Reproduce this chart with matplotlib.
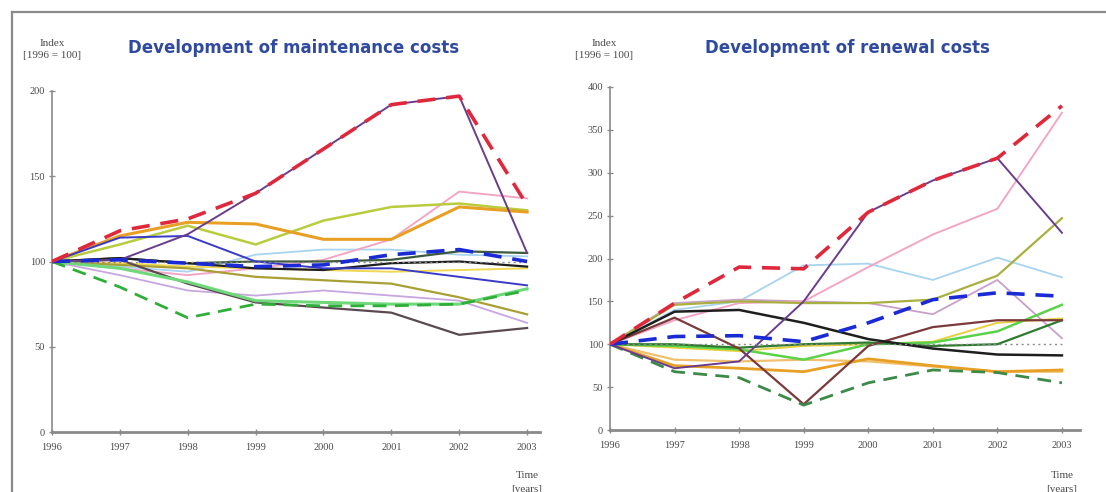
import matplotlib
matplotlib.use("Agg")
import matplotlib.pyplot as plt
from matplotlib.lines import Line2D

years = [1996, 1997, 1998, 1999, 2000, 2001, 2002, 2003]
year_labels = ["1996", "1997", "1998", "1999", "2000", "2001", "2002", "2003"]

# Maintenance cost indices (1996 = 100)
maint_red_dash = [100, 118, 125, 140, 166, 192, 197, 133]
maint_purple = [100, 101, 116, 140, 166, 192, 197, 105]
maint_blue = [100, 114, 115, 100, 96, 96, 91, 86]
maint_orange = [100, 115, 123, 122, 113, 113, 132, 129]
maint_yellowgreen = [100, 110, 121, 110, 124, 132, 134, 130]
maint_pink = [100, 96, 92, 96, 101, 113, 141, 137]
maint_blue_dash = [100, 101, 99, 97, 98, 104, 107, 100]
maint_darkgreen = [100, 102, 99, 100, 100, 101, 106, 105]
maint_black = [100, 102, 99, 96, 95, 99, 100, 97]
maint_yellow = [100, 99, 97, 96, 95, 94, 95, 96]
maint_olive = [100, 98, 96, 91, 89, 87, 79, 69]
maint_darkgray = [100, 101, 87, 76, 73, 70, 57, 61]
maint_green_dash = [100, 85, 67, 75, 74, 74, 75, 83]
maint_lightgreen = [100, 96, 88, 77, 76, 75, 75, 84]
maint_lavender = [100, 92, 83, 80, 83, 80, 77, 64]
maint_lightblue = [100, 97, 94, 104, 107, 107, 104, 103]
maint_reference = [100, 100, 100, 100, 100, 100, 100, 100]

# Renewal cost indices (1996 = 100)
renew_red_dash = [100, 148, 190, 188, 254, 291, 317, 378]
renew_purple = [100, 72, 80, 150, 254, 291, 317, 230]
renew_pink = [100, 128, 148, 150, 190, 228, 258, 370]
renew_lightblue = [100, 140, 150, 192, 194, 175, 201, 178]
renew_olive = [100, 146, 150, 148, 148, 152, 180, 247]
renew_mauve = [100, 148, 152, 150, 148, 135, 175, 107]
renew_blue_dash = [100, 109, 110, 103, 125, 152, 160, 156]
renew_black = [100, 138, 140, 125, 106, 95, 88, 87]
renew_brown = [100, 131, 95, 30, 98, 120, 128, 128]
renew_green_dash = [100, 68, 61, 29, 55, 70, 67, 55]
renew_orange = [100, 75, 72, 68, 83, 75, 68, 70]
renew_orange2 = [100, 82, 80, 82, 80, 74, 68, 68]
renew_green = [100, 98, 94, 82, 100, 102, 115, 146]
renew_darkgreen = [100, 100, 96, 100, 102, 98, 100, 128]
renew_yellow = [100, 96, 92, 98, 100, 103, 125, 130]
renew_reference = [100, 100, 100, 100, 100, 100, 100, 100]

# (values, color, linewidth, style, zorder)
maint_series = [
    (maint_lightblue, "#a8d4f0", 1.3, "solid", 2),
    (maint_lavender, "#c8a6e0", 1.3, "solid", 2),
    (maint_pink, "#f2a6c6", 1.4, "solid", 2),
    (maint_yellow, "#f0d850", 1.4, "solid", 2),
    (maint_olive, "#a8a034", 1.6, "solid", 3),
    (maint_darkgray, "#5a4a50", 1.6, "solid", 3),
    (maint_lightgreen, "#6fd87a", 2.2, "solid", 3),
    (maint_green_dash, "#2fae3a", 2.0, "dash", 4),
    (maint_yellowgreen, "#b8cc3e", 1.8, "solid", 3),
    (maint_orange, "#e8a024", 2.2, "solid", 3),
    (maint_darkgreen, "#3c5a3c", 1.6, "solid", 3),
    (maint_black, "#1e1e1e", 1.6, "solid", 3),
    (maint_blue, "#3a3ac8", 1.4, "solid", 4),
    (maint_purple, "#6a3d8a", 1.4, "solid", 4),
    (maint_reference, "#8c8c8c", 1.0, "dot", 5),
    (maint_blue_dash, "#1a2ad4", 2.6, "dash", 6),
    (maint_red_dash, "#e0283c", 2.6, "dash", 6),
]

renew_series = [
    (renew_lightblue, "#a8d4f0", 1.3, "solid", 2),
    (renew_mauve, "#c8a0c8", 1.3, "solid", 2),
    (renew_pink, "#f2a6c6", 1.4, "solid", 2),
    (renew_yellow, "#e8d040", 1.4, "solid", 2),
    (renew_olive, "#a8b040", 1.6, "solid", 3),
    (renew_orange2, "#f0c070", 1.6, "solid", 3),
    (renew_orange, "#e8a024", 2.0, "solid", 3),
    (renew_green, "#5ad24a", 1.8, "solid", 3),
    (renew_darkgreen, "#2e7a2e", 1.6, "solid", 3),
    (renew_green_dash, "#3c8a48", 2.0, "dash", 4),
    (renew_brown, "#7a3a3a", 1.6, "solid", 3),
    (renew_black, "#1e1e1e", 1.8, "solid", 3),
    (renew_purple, "#6a3d8a", 1.4, "solid", 4),
    (renew_reference, "#8c8c8c", 1.0, "dot", 5),
    (renew_blue_dash, "#1a2ad4", 2.6, "dash", 6),
    (renew_red_dash, "#e0283c", 2.6, "dash", 6),
]

TITLE_COLOR = "#2f4a9e"
AXIS_COLOR = "#8a8a8a"
TEXT_COLOR = "#4a4a4a"
SERIF = ["Liberation Serif", "DejaVu Serif"]
TICK_SIZE = 7.5
CAPTION_SIZE = 8

fig = plt.figure(figsize=(11.06, 4.92), dpi=100)
W, H = 1106, 492


def px(x, y):
    return x / W, 1 - y / H


def draw_panel(rect, series, ymax, ystep, xmax):
    ax = fig.add_axes(rect)
    for vals, color, lw, style, z in series:
        if style == "dash":
            ax.plot(years, vals, color=color, lw=lw, dashes=(5, 3), zorder=z,
                    solid_capstyle="butt")
        elif style == "dot":
            ax.plot(years, vals, color=color, lw=lw, dashes=(1.5, 2.5), zorder=z)
        else:
            ax.plot(years, vals, color=color, lw=lw, zorder=z)
    ax.set_xlim(1996, xmax)
    ax.set_ylim(0, ymax)
    ax.set_xticks(years)
    ax.set_xticklabels(year_labels)
    ax.set_yticks(range(0, ymax + 1, ystep))
    for s in ("top", "right"):
        ax.spines[s].set_visible(False)
    ax.spines["left"].set_color(AXIS_COLOR)
    ax.spines["left"].set_linewidth(1.2)
    ax.spines["bottom"].set_color(AXIS_COLOR)
    ax.spines["bottom"].set_linewidth(2.0)
    ax.tick_params(axis="both", colors=AXIS_COLOR, length=4, width=1,
                   direction="inout", labelcolor=TEXT_COLOR, labelsize=TICK_SIZE)
    ax.tick_params(axis="x", pad=6)
    ax.tick_params(axis="y", pad=3)
    for lab in ax.get_xticklabels() + ax.get_yticklabels():
        lab.set_family(SERIF)
    ax.patch.set_alpha(0)
    return ax


ax1 = draw_panel([52 / W, 1 - 432 / H, 488 / W, 341 / H], maint_series, 200, 50, 2003.19)
ax2 = draw_panel([610 / W, 1 - 430 / H, 470 / W, 343 / H], renew_series, 400, 50, 2003.28)

# Titles
fig.text(*px(294, 48), "Development of maintenance costs", color=TITLE_COLOR,
         fontsize=12, fontweight="bold", ha="center", va="center",
         family="DejaVu Sans")
fig.text(*px(847, 48), "Development of renewal costs", color=TITLE_COLOR,
         fontsize=12, fontweight="bold", ha="center", va="center",
         family="DejaVu Sans")

# Axis captions
for xpos in (52, 604):
    fig.text(*px(xpos, 43), "Index", fontsize=CAPTION_SIZE, color=TEXT_COLOR,
             ha="center", va="center", family=SERIF)
    fig.text(*px(xpos, 56), "[1996 = 100]", fontsize=CAPTION_SIZE, color=TEXT_COLOR,
             ha="center", va="center", family=SERIF)
for xpos in (527, 1062):
    fig.text(*px(xpos, 475), "Time", fontsize=CAPTION_SIZE, color=TEXT_COLOR,
             ha="center", va="center", family=SERIF)
    fig.text(*px(xpos, 489), "[years]", fontsize=CAPTION_SIZE, color=TEXT_COLOR,
             ha="center", va="center", family=SERIF)

# Outer frame
fig.add_artist(Line2D([12 / W, 1.0], [1 - 12 / H, 1 - 12 / H], color="#8a8a8a",
                      lw=1.6, transform=fig.transFigure))
fig.add_artist(Line2D([12 / W, 12 / W], [0.0, 1 - 12 / H], color="#8a8a8a",
                      lw=1.6, transform=fig.transFigure))

fig.savefig("out.png", dpi=100, facecolor="white")
